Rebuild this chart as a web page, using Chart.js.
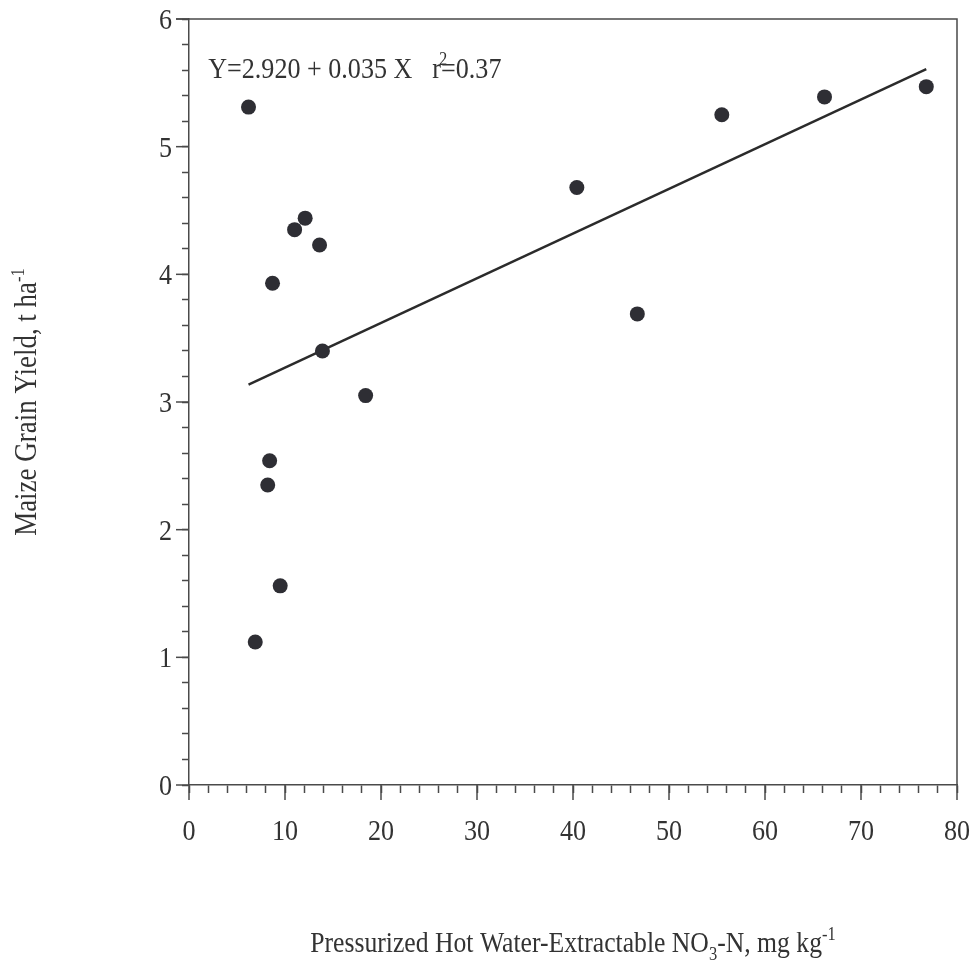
<!DOCTYPE html>
<html>
<head>
<meta charset="utf-8">
<script src="https://cdn.jsdelivr.net/npm/chart.js@4.4.1/dist/chart.umd.min.js"></script>
<style>
  html, body { margin: 0; padding: 0; background: #fff; }
  #wrap { width: 975px; height: 973px; }
</style>
</head>
<body>
<div id="wrap"><canvas id="yieldChart" width="975" height="973"></canvas></div>
<script>
// Maize grain yield vs hot water extractable nitrate

const nitrateN = [6.2, 6.9, 8.2, 8.4, 8.7, 9.5, 11.0, 12.1, 13.6, 13.9, 18.4, 40.4, 46.7, 55.5, 66.2, 76.8];
const grainYield = [5.31, 1.12, 2.35, 2.54, 3.93, 1.56, 4.35, 4.44, 4.23, 3.40, 3.05, 4.68, 3.69, 5.25, 5.39, 5.47];

const xTickLabels = ["0", "10", "20", "30", "40", "50", "60", "70", "80"];
const yTickLabels = ["0", "1", "2", "3", "4", "5", "6"];

// regression from the figure
const intercept = 2.920;
const slope = 0.035;
const fitX = [Math.min(...nitrateN), Math.max(...nitrateN)];

const ink = "#333333";
const axisInk = "#4a4a4a";
const serif = "'Liberation Serif', 'Times New Roman', serif";
const squeeze = 0.87;

// draw text a bit narrower, like the original figure
function narrowText(ctx, txt, x, y, size, align) {
  ctx.save();
  ctx.font = size + "px " + serif;
  let w = ctx.measureText(txt).width * squeeze;
  let startX = x;
  if (align === "center") startX = x - w / 2;
  if (align === "right") startX = x - w;
  ctx.translate(startX, y);
  ctx.scale(squeeze, 1);
  ctx.textAlign = "left";
  ctx.textBaseline = "alphabetic";
  ctx.fillStyle = ink;
  ctx.fillText(txt, 0, 0);
  ctx.restore();
  return w;
}

function textWidth(ctx, txt, size) {
  ctx.save();
  ctx.font = size + "px " + serif;
  let w = ctx.measureText(txt).width * squeeze;
  ctx.restore();
  return w;
}

const figurePlugin = {
  id: "figureDecor",
  afterDraw(chart) {
    const ctx = chart.ctx;
    const area = chart.chartArea;
    const xs = chart.scales.x;
    const ys = chart.scales.y;

    ctx.save();
    ctx.strokeStyle = axisInk;
    ctx.lineWidth = 1.5;

    // top and right frame lines
    ctx.beginPath();
    ctx.moveTo(area.left - 13, area.top);
    ctx.lineTo(area.right, area.top);
    ctx.lineTo(area.right, area.bottom);
    ctx.stroke();

    // major ticks
    xTickLabels.forEach(lab => {
      let px = xs.getPixelForValue(Number(lab));
      ctx.beginPath();
      ctx.moveTo(px, area.bottom);
      ctx.lineTo(px, area.bottom + 15);
      ctx.stroke();
    });
    yTickLabels.forEach(lab => {
      let py = ys.getPixelForValue(Number(lab));
      ctx.beginPath();
      ctx.moveTo(area.left - 13, py);
      ctx.lineTo(area.left, py);
      ctx.stroke();
    });
    ctx.restore();

    // tick labels
    xTickLabels.forEach(lab => {
      narrowText(ctx, lab, xs.getPixelForValue(Number(lab)), area.bottom + 55, 30, "center");
    });
    yTickLabels.forEach(lab => {
      narrowText(ctx, lab, area.left - 17, ys.getPixelForValue(Number(lab)) + 10, 30, "right");
    });

    // equation
    let ex = xs.getPixelForValue(2);
    let ey = ys.getPixelForValue(5.54);
    let w1 = narrowText(ctx, "Y=2.920 + 0.035 X", ex, ey, 30, "left");
    let rx = ex + w1 + 20;
    let wr = narrowText(ctx, "r", rx, ey, 30, "left");
    narrowText(ctx, "2", rx + wr - 2, ey - 13, 19, "left");
    narrowText(ctx, "=0.37", rx + wr, ey, 30, "left");

    // x axis title
    const xParts = [
      ["Pressurized Hot Water-Extractable NO", 29.5, 0],
      ["3", 19, 8],
      ["-N, mg kg", 29.5, 0],
      ["-1", 19, -12]
    ];
    let total = 0;
    xParts.forEach(p => { total += textWidth(ctx, p[0], p[1]); });
    let cx = (area.left + area.right) / 2 - total / 2;
    xParts.forEach(p => {
      cx += narrowText(ctx, p[0], cx, 952 + p[2], p[1], "left");
    });

    // y axis title, turned
    const yParts = [
      ["Maize Grain Yield, t ha", 31, 0],
      ["-1", 19, -12]
    ];
    let ytotal = 0;
    yParts.forEach(p => { ytotal += textWidth(ctx, p[0], p[1]); });
    ctx.save();
    ctx.translate(36, (area.top + area.bottom) / 2);
    ctx.rotate(-Math.PI / 2);
    let cy = -ytotal / 2;
    yParts.forEach(p => {
      cy += narrowText(ctx, p[0], cy, p[2], p[1], "left");
    });
    ctx.restore();
  }
};

let yieldCanvas = document.getElementById("yieldChart");

let yieldChart = new Chart(yieldCanvas, {
  type: "scatter",
  data: {
    datasets: [{
      label: "Maize grain yield",
      data: nitrateN.map((n, i) => ({ x: n, y: grainYield[i] })),
      backgroundColor: "#2e2e34",
      borderColor: "#2e2e34",
      pointRadius: 7.5,
      pointHoverRadius: 7.5,
      borderWidth: 0
    },
    {
      label: "Fit",
      type: "line",
      data: fitX.map(x => ({ x: x, y: intercept + slope * x })),
      borderColor: "#2b2b2b",
      borderWidth: 2.5,
      pointRadius: 0,
      fill: false
    }]
  },
  options: {
    responsive: false,
    animation: false,
    events: [],
    layout: {
      padding: { top: 19, right: 18, left: 0, bottom: 0 }
    },
    plugins: {
      legend: { display: false },
      tooltip: { enabled: false }
    },
    scales: {
      x: {
        type: "linear",
        min: 0,
        max: 80,
        ticks: { stepSize: 2, display: false },
        grid: { drawOnChartArea: false, tickLength: 8, tickColor: axisInk, tickWidth: 1.5 },
        border: { color: axisInk, width: 1.5 },
        afterFit: s => { s.height = 973 - 785; }
      },
      y: {
        min: 0,
        max: 6,
        ticks: { stepSize: 0.2, display: false },
        grid: { drawOnChartArea: false, tickLength: 7, tickColor: axisInk, tickWidth: 1.5 },
        border: { color: axisInk, width: 1.5 },
        afterFit: s => { s.width = 189; }
      }
    }
  },
  plugins: [figurePlugin]
});
</script>
</body>
</html>
